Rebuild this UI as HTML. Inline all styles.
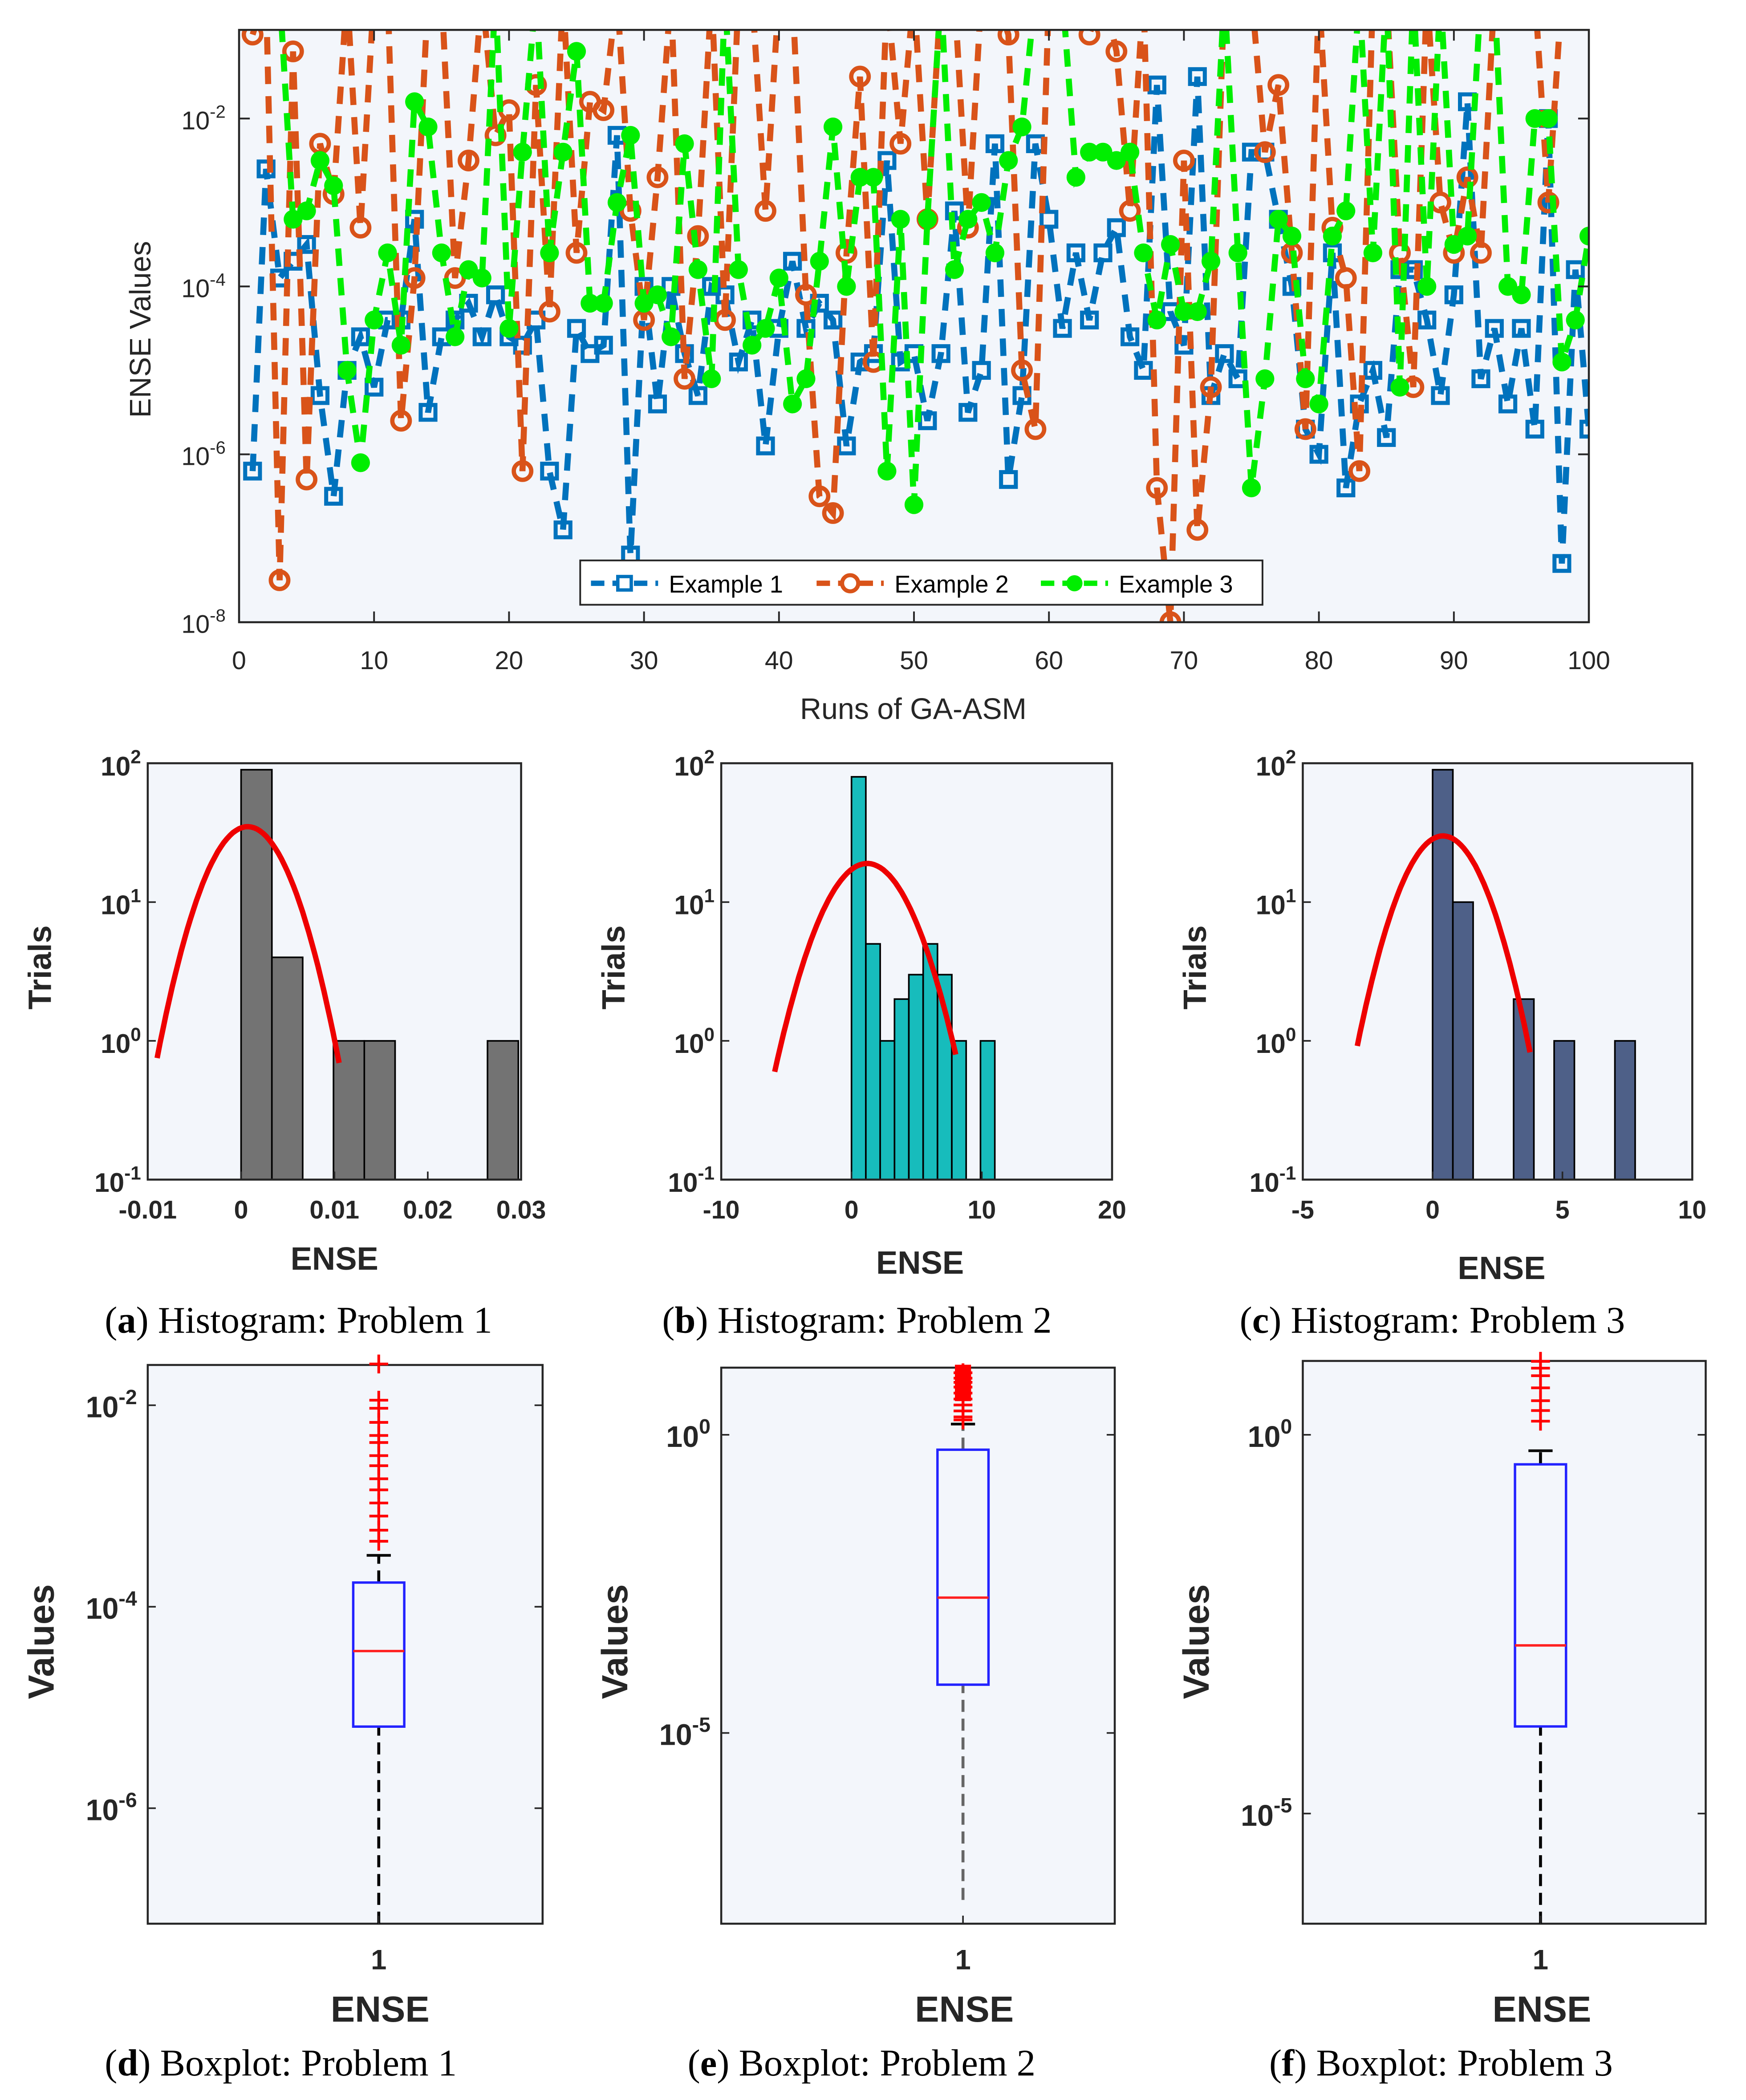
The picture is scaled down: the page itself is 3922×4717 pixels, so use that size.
<!DOCTYPE html>
<html><head><meta charset="utf-8"><style>
html,body{margin:0;padding:0;background:#fff}
svg{display:block}
text{font-family:"Liberation Sans",sans-serif}
text.cap{font-family:"Liberation Serif",serif}
</style></head><body>
<svg id="fig" xmlns="http://www.w3.org/2000/svg" width="3922" height="4717" viewBox="0 0 1300 1563">
<rect width="1300" height="1563" fill="#fff"/>
<g id="top"></g><g id="hists"></g><g id="boxes"></g>
</svg>
<script>
// ===== data: top chart (log10 of ENSE per run; -0.5 = above axis) =====
const runs = Array.from({length:100},(_,i)=>i+1);
const ex1 = [-6.2,-2.6,-3.9,-3.7,-3.5,-5.3,-6.5,-5.0,-4.6,-5.2,-4.4,-4.4,-3.2,-5.5,-4.6,-4.4,-4.2,-4.6,-4.1,-4.6,-4.7,-4.4,-6.2,-6.9,-4.5,-4.8,-4.7,-2.2,-7.2,-4.0,-5.4,-4.0,-4.8,-5.3,-4.0,-4.1,-4.9,-4.4,-5.9,-4.5,-3.7,-4.5,-4.2,-4.4,-5.9,-4.9,-4.8,-2.5,-4.9,-4.8,-5.6,-4.8,-3.1,-5.5,-5.0,-2.3,-6.3,-5.3,-2.3,-3.2,-4.5,-3.6,-4.4,-3.6,-3.3,-4.6,-5.0,-1.6,-4.3,-4.7,-1.5,-5.3,-4.8,-5.1,-2.4,-2.4,-3.2,-4.0,-5.7,-6.0,-3.6,-6.4,-5.4,-5.0,-5.8,-3.8,-3.8,-4.4,-5.3,-4.1,-1.8,-5.1,-4.5,-5.4,-4.5,-5.7,-2.0,-7.3,-3.8,-5.7];
const ex2 = [-1.0,-0.5,-7.5,-1.2,-6.3,-2.3,-2.9,-0.5,-3.3,-0.5,-0.5,-5.6,-3.9,-0.5,-0.5,-3.9,-2.5,-0.5,-2.2,-1.9,-6.2,-1.6,-4.3,-0.5,-3.6,-1.8,-1.9,-0.5,-3.1,-4.4,-2.7,-0.5,-5.1,-3.4,-0.5,-4.4,-0.5,-0.5,-3.1,-0.5,-0.5,-4.1,-6.5,-6.7,-3.6,-1.5,-4.9,-0.5,-2.3,-0.5,-3.2,-0.5,-0.5,-3.3,-0.5,-0.5,-1.0,-5.0,-5.7,-0.5,-0.5,-0.5,-1.0,-0.5,-1.2,-3.1,-0.5,-6.4,-8.0,-2.5,-6.9,-5.2,-0.5,-0.5,-0.5,-2.4,-1.6,-3.6,-5.7,-0.5,-3.3,-3.9,-6.2,-0.5,-0.5,-3.6,-5.2,-0.5,-3.0,-3.6,-2.7,-3.6,-0.5,-0.5,-0.5,-0.5,-3.0,-0.5,-0.5,-0.5];
const ex3 = [-0.5,-0.5,-0.5,-3.2,-3.1,-2.5,-2.8,-5.0,-6.1,-4.4,-3.6,-4.7,-1.8,-2.1,-3.6,-4.6,-3.8,-3.9,-0.5,-4.5,-2.4,-0.5,-3.6,-2.4,-1.2,-4.2,-4.2,-3.0,-2.2,-4.2,-4.1,-4.6,-2.3,-3.8,-5.1,-0.5,-3.8,-4.7,-4.5,-3.9,-5.4,-5.1,-3.7,-2.1,-4.0,-2.7,-2.7,-6.2,-3.2,-6.6,-3.2,-0.5,-3.8,-3.2,-3.0,-3.6,-2.5,-2.1,-0.5,-0.5,-0.5,-2.7,-2.4,-2.4,-2.5,-2.4,-3.6,-4.4,-3.5,-4.3,-4.3,-3.7,-0.5,-3.6,-6.4,-5.1,-3.2,-3.4,-5.1,-5.4,-3.4,-3.1,-0.5,-3.6,-0.5,-5.2,-0.5,-4.0,-0.5,-3.5,-3.4,-0.5,-0.5,-4.0,-4.1,-2.0,-2.0,-4.9,-4.4,-3.4];
const xTicks = [0,10,20,30,40,50,60,70,80,90,100];
const yTickExp = [-2,-4,-6,-8];
// ===== histogram data =====
const h1Edges = [0.0000,0.0033,0.0066,0.0099,0.0132,0.0165,0.0198,0.0231,0.0264,0.0297];
const h1Counts = [90,4,0,1,1,0,0,0,1];
const h2Edges = [0,1.1,2.2,3.3,4.4,5.5,6.6,7.7,8.8,9.9,11];
const h2Counts = [80,5,1,2,3,5,3,1,0,1];
const h3Edges = [0,0.78,1.56,2.34,3.12,3.9,4.68,5.46,6.24,7.02,7.8];
const h3Counts = [90,10,0,0,2,0,1,0,0,1];
const h1Ticks = [-0.01,0,0.01,0.02,0.03];
const h2Ticks = [-10,0,10,20];
const h3Ticks = [-5,0,5,10];
const fitMu = [0.0007,1.2,0.4];
const fitSd = [0.0035,2.7,1.25];
const fitPeak = [35,19,30];
// ===== boxplot data (log10) =====
const boxQ = [[-5.19,-4.44,-3.76],[-4.19,-2.73,-0.25],[-3.85,-2.78,-0.39]];
const boxWhisk = [[-7.8,-3.49],[-7.8,0.18],[-7.2,-0.21]];
const out1 = [-1.59,-1.95,-2.03,-2.17,-2.3,-2.37,-2.5,-2.6,-2.73,-2.84,-2.97,-3.1,-3.24,-3.35];
const out2 = [1.04,0.95,0.88,0.8,0.7,0.6,0.5,0.4,0.3,0.25];
const out3 = [0.97,0.88,0.78,0.62,0.45,0.32,0.18];
</script>
<script>
const NS="http://www.w3.org/2000/svg";
function mk(parent,tag,attrs,txt){const e=document.createElementNS(NS,tag);for(const k in attrs)e.setAttribute(k,attrs[k]);if(txt!==undefined)e.textContent=txt;parent.appendChild(e);return e;}
function pow10(p,x,y,base,exp,size,anchor,bold){
  const t=mk(p,'text',{x:x,y:y,'font-size':size,'text-anchor':anchor||'end',fill:'#262626','font-weight':bold?'bold':'normal'});
  const a=document.createElementNS(NS,'tspan');a.textContent=base;t.appendChild(a);
  const b=document.createElementNS(NS,'tspan');b.setAttribute('dy',-size*0.45);b.setAttribute('font-size',size*0.7);b.textContent=exp;t.appendChild(b);
  return t;
}
// ===== Top chart =====
(function(){
  const g=document.getElementById('top');
  const L=178,R=1183,T=22,B=463;
  const X=v=>L+(v/100)*(R-L);
  const Y=l=>88+(-2-l)*62.5;
  const bg=mk(g,'rect',{x:L,y:T,width:R-L,height:B-T,fill:'#f3f6fb'});
  
  mk(g,'clipPath',{id:'clipTop'});
  mk(document.getElementById('clipTop'),'rect',{x:L,y:T,width:R-L,height:B-T});
  const series=[[ex1,'#0072bd','sq','series-example-1'],[ex2,'#d95319','ci','series-example-2'],[ex3,'#00ee00','st','series-example-3']];
  series.forEach(([d,c,m,n])=>{
    const sg=mk(g,'g',{'clip-path':'url(#clipTop)'});
    
    const pts=d.map((v,i)=>X(runs[i]).toFixed(1)+','+Y(v).toFixed(1)).join(' ');
    mk(sg,'polyline',{points:pts,fill:'none',stroke:c,'stroke-width':4.5,'stroke-dasharray':'13,9'});
    d.forEach((v,i)=>{
      const x=X(runs[i]),y=Y(v);
      if(m==='sq')mk(sg,'rect',{x:x-5.5,y:y-5.5,width:11,height:11,fill:'none',stroke:c,'stroke-width':3});
      else if(m==='ci')mk(sg,'circle',{cx:x,cy:y,r:6.5,fill:'none',stroke:c,'stroke-width':3.2});
      else {mk(sg,'circle',{cx:x,cy:y,r:7,fill:c});}
    });
  });
  const ax=mk(g,'rect',{x:L,y:T,width:R-L,height:B-T,fill:'none',stroke:'#262626','stroke-width':1.5});
  
  xTicks.forEach(v=>{const x=X(v);
    mk(g,'line',{x1:x,y1:B,x2:x,y2:B-8,stroke:'#262626','stroke-width':1.3});
    mk(g,'line',{x1:x,y1:T,x2:x,y2:T+8,stroke:'#262626','stroke-width':1.3});
    const t=mk(g,'text',{x:x,y:498,'font-size':19,'text-anchor':'middle',fill:'#262626'},String(v));
    
  });
  yTickExp.forEach(e=>{const y=Y(e);
    mk(g,'line',{x1:L,y1:y,x2:L+8,y2:y,stroke:'#262626','stroke-width':1.3});
    mk(g,'line',{x1:R,y1:y,x2:R-8,y2:y,stroke:'#262626','stroke-width':1.3});
    const t=pow10(g,168,y+8,'10',String(e),19,'end');
    
  });
  const xl=mk(g,'text',{x:680,y:535,'font-size':22,'text-anchor':'middle',fill:'#262626'},'Runs of GA-ASM');
  
  const yl=mk(g,'text',{x:0,y:0,'font-size':22,'text-anchor':'middle',fill:'#262626',transform:'translate(112,245) rotate(-90)'},'ENSE Values');
  
  const lg=mk(g,'g',{});
  
  mk(lg,'rect',{x:432,y:417,width:508,height:33,fill:'#fff',stroke:'#262626','stroke-width':1.3});
  const items=[[440,'#0072bd','sq','Example 1'],[608,'#d95319','ci','Example 2'],[775,'#00ee00','st','Example 3']];
  items.forEach(([x,c,m,lab])=>{
    const e=mk(lg,'g',{});
    
    mk(e,'line',{x1:x,y1:434,x2:x+50,y2:434,stroke:c,'stroke-width':4,'stroke-dasharray':'10,6'});
    if(m==='sq')mk(e,'rect',{x:x+20,y:429,width:10,height:10,fill:'#fff',stroke:c,'stroke-width':2.5});
    else if(m==='ci')mk(e,'circle',{cx:x+25,cy:434,r:6,fill:'#fff',stroke:c,'stroke-width':3});
    else mk(e,'circle',{cx:x+25,cy:434,r:6,fill:c});
    mk(e,'text',{x:x+58,y:441,'font-size':18,fill:'#000'},lab);
  });
})();
// ===== Histograms =====
(function(){
  const g=document.getElementById('hists');
  const cfg=[
    {L:110,R:388,dmin:-0.01,dmax:0.03,edges:h1Edges,counts:h1Counts,ticks:h1Ticks,color:'#737373',xl:249,xly:945,lbl:['-0.01','0','0.01','0.02','0.03'],cap:'a',capx:78,title:' Histogram: Problem 1',n:'histogram-problem-1',curveR:[-0.009,0.0105]},
    {L:537,R:828,dmin:-10,dmax:20,edges:h2Edges,counts:h2Counts,ticks:h2Ticks,color:'#17bcbc',xl:685,xly:948,lbl:['-10','0','10','20'],cap:'b',capx:493,title:' Histogram: Problem 2',n:'histogram-problem-2',curveR:[-5.9,8.0]},
    {L:970,R:1260,dmin:-5,dmax:10,edges:h3Edges,counts:h3Counts,ticks:h3Ticks,color:'#4e6088',xl:1118,xly:952,lbl:['-5','0','5','10'],cap:'c',capx:923,title:' Histogram: Problem 3',n:'histogram-problem-3',curveR:[-2.9,3.75]}
  ];
  const T=568,B=878;
  cfg.forEach((c,k)=>{
    const hg=mk(g,'g',{});
    
    const X=v=>c.L+(v-c.dmin)/(c.dmax-c.dmin)*(c.R-c.L);
    const Y=v=>B-(Math.log10(v)+1)*103.3;
    mk(hg,'rect',{x:c.L,y:T,width:c.R-c.L,height:B-T,fill:'#f3f6fb'});
    c.counts.forEach((n,i)=>{ if(n<=0)return;
      const b=mk(hg,'rect',{x:X(c.edges[i]),y:Y(n),width:X(c.edges[i+1])-X(c.edges[i]),height:B-Y(n),fill:c.color,stroke:'#000','stroke-width':1.2});
      
    });
    let pts=[];
    for(let j=0;j<=60;j++){const v=c.curveR[0]+(c.curveR[1]-c.curveR[0])*j/60;
      const f=fitPeak[k]*Math.exp(-0.5*Math.pow((v-fitMu[k])/fitSd[k],2));
      pts.push(X(v).toFixed(1)+','+Y(f).toFixed(1));}
    const cv=mk(hg,'polyline',{points:pts.join(' '),fill:'none',stroke:'#ee0000','stroke-width':4});
    
    mk(hg,'rect',{x:c.L,y:T,width:c.R-c.L,height:B-T,fill:'none',stroke:'#262626','stroke-width':1.5});
    c.ticks.forEach((v,i)=>{const x=X(v);
      mk(hg,'line',{x1:x,y1:B,x2:x,y2:B-6,stroke:'#262626','stroke-width':1.2});
      const t=mk(hg,'text',{x:x,y:B+29,'font-size':19,'font-weight':'bold','text-anchor':'middle',fill:'#262626'},c.lbl[i]);
      
    });
    [2,1,0,-1].forEach(e=>{const y=Y(Math.pow(10,e));
      mk(hg,'line',{x1:c.L,y1:y,x2:c.L+6,y2:y,stroke:'#262626','stroke-width':1.2});
      const t=pow10(hg,c.L-5,y+9,'10',String(e),20,'end',true);
      
    });
    const yl=mk(hg,'text',{x:0,y:0,'font-size':24,'font-weight':'bold','text-anchor':'middle',fill:'#262626',transform:'translate('+(c.L-72)+',720) rotate(-90)'},'Trials');
    
    const xl=mk(hg,'text',{x:c.xl,y:c.xly,'font-size':24,'font-weight':'bold','text-anchor':'middle',fill:'#262626'},'ENSE');
    
    const cap=mk(hg,'text',{x:c.capx,y:992,'font-size':28,fill:'#000','class':'cap'});
    
    cap.innerHTML='(<tspan font-weight="bold">'+c.cap+'</tspan>)'+c.title;
  });
})();
// ===== Boxplots =====
(function(){
  const g=document.getElementById('boxes');
  const cfg=[
    {L:110,R:404,T:1016,B:1432,cx:282,y0:1046,e0:-2,per:75,ticks:[-2,-4,-6],outs:out1,sq:false,cap:'d',capx:78,title:' Boxplot: Problem 1',n:'boxplot-problem-1',wc:'#000'},
    {L:537,R:830,T:1018,B:1432,cx:717,y0:1068,e0:0,per:44.4,ticks:[0,-5],outs:out2,sq:true,cap:'e',capx:512,title:' Boxplot: Problem 2',n:'boxplot-problem-2',wc:'#666'},
    {L:970,R:1270,T:1013,B:1432,cx:1147,y0:1068,e0:0,per:56.4,ticks:[0,-5],outs:out3,sq:false,cap:'f',capx:945,title:' Boxplot: Problem 3',n:'boxplot-problem-3',wc:'#000'}
  ];
  cfg.forEach((c,k)=>{
    const bg=mk(g,'g',{});
    
    const Y=l=>c.y0+(c.e0-l)*c.per;
    mk(bg,'rect',{x:c.L,y:c.T,width:c.R-c.L,height:c.B-c.T,fill:'#f3f6fb',stroke:'#262626','stroke-width':1.5});
    const q=boxQ[k],w=boxWhisk[k];
    mk(bg,'line',{x1:c.cx,y1:Math.min(c.B,Y(w[0])),x2:c.cx,y2:Y(q[0]),stroke:c.wc,'stroke-width':2.2,'stroke-dasharray':'9,5'});
    mk(bg,'line',{x1:c.cx,y1:Y(q[2]),x2:c.cx,y2:Y(w[1]),stroke:c.wc,'stroke-width':2.2,'stroke-dasharray':'9,5'});
    mk(bg,'line',{x1:c.cx-9,y1:Y(w[1]),x2:c.cx+9,y2:Y(w[1]),stroke:'#000','stroke-width':2});
    const bx=mk(bg,'rect',{x:c.cx-19,y:Y(q[2]),width:38,height:Y(q[0])-Y(q[2]),fill:'none',stroke:'#2222ff','stroke-width':1.8});
    
    const md=mk(bg,'line',{x1:c.cx-19,y1:Y(q[1]),x2:c.cx+19,y2:Y(q[1]),stroke:'#ff2020','stroke-width':1.8});
    
    c.outs.forEach(o=>{const y=Y(o);
      if(y<c.T-2)return;
      const og=mk(bg,'g',{});
      
      if(c.sq && o>0.6) mk(og,'rect',{x:c.cx-6,y:y-6,width:12,height:12,fill:'#ff0000'});
      mk(og,'line',{x1:c.cx-7,y1:y,x2:c.cx+7,y2:y,stroke:'#ff0000','stroke-width':2});
      mk(og,'line',{x1:c.cx,y1:y-7,x2:c.cx,y2:y+7,stroke:'#ff0000','stroke-width':2});
    });
    c.ticks.forEach(e=>{const y=Y(e);
      mk(bg,'line',{x1:c.L,y1:y,x2:c.L+6,y2:y,stroke:'#262626','stroke-width':1.2});
      mk(bg,'line',{x1:c.R,y1:y,x2:c.R-6,y2:y,stroke:'#262626','stroke-width':1.2});
      const t=pow10(bg,c.L-8,y+9,'10',String(e),22,'end',true);
      
    });
    mk(bg,'line',{x1:c.cx,y1:c.B,x2:c.cx,y2:c.B-6,stroke:'#262626','stroke-width':1.2});
    const xt=mk(bg,'text',{x:c.cx,y:c.B+34,'font-size':21,'font-weight':'bold','text-anchor':'middle',fill:'#262626'},'1');
    
    const xl=mk(bg,'text',{x:c.cx+1,y:c.B+73,'font-size':27,'font-weight':'bold','text-anchor':'middle',fill:'#262626'},'ENSE');
    
    const yl=mk(bg,'text',{x:0,y:0,'font-size':27,'font-weight':'bold','text-anchor':'middle',fill:'#262626',transform:'translate('+(c.L-70)+',1222) rotate(-90)'},'Values');
    
    const cap=mk(bg,'text',{x:c.capx,y:1545,'font-size':28,fill:'#000','class':'cap'});
    
    cap.innerHTML='(<tspan font-weight="bold">'+c.cap+'</tspan>)'+c.title;
  });
})();
</script>
</body></html>
